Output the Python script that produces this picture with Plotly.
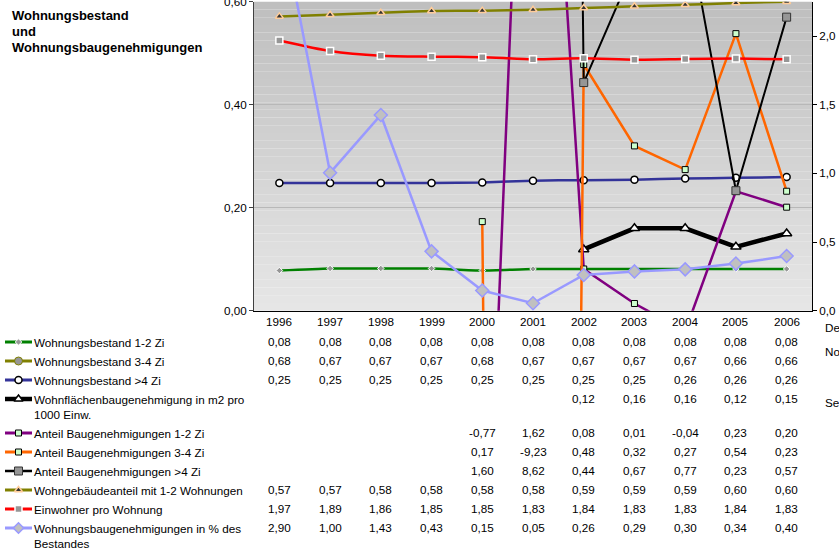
import plotly.graph_objects as go

W, H = 839, 549

years = ["1996", "1997", "1998", "1999", "2000", "2001", "2002", "2003", "2004", "2005", "2006"]

names = [
    "Wohnungsbestand 1-2 Zi",
    "Wohnungsbestand 3-4 Zi",
    "Wohnungsbestand >4 Zi",
    "Wohnflächenbaugenehmigung in m2 pro\n1000 Einw.",
    "Anteil Baugenehmigungen 1-2 Zi",
    "Anteil Baugenehmigungen 3-4 Zi",
    "Anteil Baugenehmigungen >4 Zi",
    "Wohngebäudeanteil mit 1-2 Wohnungen",
    "Einwohner pro Wohnung",
    "Wohnungsbaugenehmigungen in % des\nBestandes",
]

bestand_12 = [0.078, 0.082, 0.082, 0.082, 0.078, 0.081, 0.081, 0.081, 0.081, 0.081, 0.081]
bestand_34 = [0.68, 0.67, 0.67, 0.67, 0.68, 0.67, 0.67, 0.67, 0.67, 0.66, 0.66]
bestand_4 = [0.248, 0.248, 0.248, 0.248, 0.249, 0.2525, 0.2535, 0.2545, 0.2567, 0.258, 0.2595]
wohnflaeche = [None, None, None, None, None, None, 0.119, 0.160, 0.160, 0.124, 0.150]
anteil_12 = [None, None, None, None, -0.77, 1.62, 0.081, 0.014, -0.04, 0.232, 0.201]
anteil_34 = [None, None, None, None, 0.173, -9.23, 0.478, 0.320, 0.274, 0.538, 0.232]
anteil_4 = [None, None, None, None, 1.60, 8.62, 0.443, 0.67, 0.77, 0.233, 0.570]
gebaeude_12 = [0.5715, 0.5748, 0.5787, 0.582, 0.5826, 0.5843, 0.5877, 0.591, 0.594, 0.5974, 0.6]
einwohner = [1.968, 1.891, 1.857, 1.850, 1.846, 1.831, 1.838, 1.828, 1.833, 1.836, 1.831]
genehm_pct = [2.90, 1.004, 1.425, 0.432, 0.147, 0.054, 0.26, 0.286, 0.301, 0.343, 0.398]

series = [bestand_12, bestand_34, bestand_4, wohnflaeche, anteil_12, anteil_34,
          anteil_4, gebaeude_12, einwohner, genehm_pct]

left_ticks = [0.0, 0.2, 0.4, 0.6]
right_ticks = [0.0, 0.5, 1.0, 1.5, 2.0]

# styles: axis, line color, line width, spline, marker symbol, size, fill, edge, edge width
styles = [
    ("y", "#008000", 2.5, True, "diamond", 5, "#969696", "#ffffff", 1),
    ("y", "#808000", 2.5, True, "circle", 8, "#969696", "#808000", 1),
    ("y", "#333399", 2.5, True, "circle", 7, "#ffffff", "#000000", 1.5),
    ("y", "#000000", 4.5, False, "triangle-up", 9, "#ffffff", "#000000", 1.5),
    ("y", "#800080", 2.5, False, "square", 6, "#ccffcc", "#000000", 1),
    ("y", "#ff6600", 2.5, False, "square", 6, "#ccffcc", "#000000", 1),
    ("y", "#000000", 2.0, False, "square", 8, "#969696", "#333333", 1),
    ("y", "#808000", 2.5, True, "triangle-up", 7, "#333333", "#ffcc99", 1.5),
    ("y2", "#ff0000", 2.5, True, "square", 7, "#969696", "#ffffff", 1.5),
    ("y2", "#9999ff", 2.5, False, "diamond", 10, "#c0c0c0", "#9999ff", 1.5),
]

FONT = "Liberation Sans, Arial, sans-serif"
FS = 11.7


def px_x(p):
    return p / W


def px_y(p):
    return 1 - p / H


PL, PR, PT, PB = 254, 812, 1.7, 310.7

fig = go.Figure()

xs = list(range(len(years)))
for vals, st, nm in zip(series, styles, names):
    ax, col, lw, spl, sym, ms, mfill, medge, mew = st
    fig.add_trace(go.Scatter(
        x=xs, y=vals, yaxis=ax, xaxis="x", mode="lines+markers",
        name=nm.replace("\n", " "),
        line=dict(color=col, width=lw, shape="spline" if spl else "linear", smoothing=0.6),
        marker=dict(symbol=sym, size=ms, color=mfill, line=dict(color=medge, width=mew)),
        showlegend=False, hoverinfo="skip"))

# legend keys drawn in a helper subplot measured in reference pixels
LX1 = 250
LY0 = 330
row_y = [342, 361, 380, 399, 433, 452, 471, 490, 509, 528]
for st, ry in zip(styles, row_y):
    ax, col, lw, spl, sym, ms, mfill, medge, mew = st
    fig.add_trace(go.Scatter(
        x=[5, 32], y=[ry, ry], xaxis="x3", yaxis="y3", mode="lines",
        line=dict(color=col, width=min(lw + 0.5, 4.5)), showlegend=False, hoverinfo="skip"))
    fig.add_trace(go.Scatter(
        x=[18.5], y=[ry], xaxis="x3", yaxis="y3", mode="markers",
        marker=dict(symbol=sym, size=min(ms, 8), color=mfill, line=dict(color=medge, width=mew)),
        showlegend=False, hoverinfo="skip"))

annotations = []
# title
for k, t in enumerate(["Wohnungsbestand", "und", "Wohnungsbaugenehmigungen"]):
    annotations.append(dict(x=px_x(10), y=px_y(15 + 16.5 * k), xref="paper", yref="paper",
                            text=t, showarrow=False, xanchor="left", yanchor="middle",
                            font=dict(family=FONT, size=13, color="#000000", weight="bold")))

# years row
for i, yr in enumerate(years):
    annotations.append(dict(x=i, y=px_y(321), xref="x", yref="paper", text=yr, showarrow=False,
                            xanchor="center", yanchor="middle",
                            font=dict(family=FONT, size=FS, color="#000000")))

# table rows
for nm, vals, ry in zip(names, series, row_y):
    for k, line in enumerate(nm.split("\n")):
        annotations.append(dict(x=px_x(32), y=px_y(ry + 15 * k), xref="paper", yref="paper",
                                text=line, showarrow=False, xanchor="left", yanchor="middle",
                                font=dict(family=FONT, size=FS, color="#000000")))
    for i, v in enumerate(vals):
        if v is None:
            continue
        s = f"{v:.2f}".replace(".", ",")
        annotations.append(dict(x=i, y=px_y(ry - 1), xref="x", yref="paper", text=s, showarrow=False,
                                xanchor="center", yanchor="middle",
                                font=dict(family=FONT, size=FS, color="#000000")))

# truncated texts at right edge
for t, yy in [("De", 327), ("No", 351), ("Sep", 402)]:
    annotations.append(dict(x=px_x(823), y=px_y(yy), xref="paper", yref="paper", text=t,
                            showarrow=False, xanchor="left", yanchor="middle",
                            font=dict(family=FONT, size=FS, color="#000000")))

# gradient background of plot area
shapes = []
N = 40
top = (191, 191, 191)
bot = (230, 230, 230)
for k in range(N):
    f = (k + 0.5) / N
    c = tuple(int(round(bot[j] + (top[j] - bot[j]) * f)) for j in range(3))
    shapes.append(dict(type="rect", xref="x domain", yref="y domain", x0=0, x1=1,
                       y0=k / N, y1=(k + 1) / N, fillcolor="rgb(%d,%d,%d)" % c,
                       line=dict(width=0), layer="below"))

fig.update_layout(
    width=W, height=H,
    margin=dict(l=0, r=0, t=0, b=0, autoexpand=False),
    paper_bgcolor="#ffffff",
    plot_bgcolor="rgba(0,0,0,0)",
    separators=", ",
    font=dict(family=FONT, size=FS, color="#000000"),
    xaxis=dict(domain=[px_x(PL), px_x(PR)], range=[-0.5, len(years) - 0.5], automargin=False,
               showticklabels=False, ticks="", showgrid=False, zeroline=False,
               showline=True, linecolor="#000000", linewidth=1, anchor="y"),
    yaxis=dict(domain=[px_y(PB), px_y(PT)], range=[0, 0.6], tickvals=left_ticks, automargin=False,
               tickformat=".2f", ticks="outside", ticklen=4, tickcolor="#404040",
               showline=True, linecolor="#404040", linewidth=1, showgrid=True,
               gridcolor="#b8b8b8", gridwidth=1, zeroline=False, ticklabeloverflow="allow",
               tickfont=dict(family=FONT, size=FS, color="#000000"), anchor="x"),
    yaxis2=dict(overlaying="y", side="right", range=[0, 2.25], tickvals=right_ticks,
                automargin=False,
                tickformat=".1f", ticks="outside", ticklen=4, tickcolor="#000000",
                showline=True, linecolor="#000000", linewidth=1, showgrid=False,
                zeroline=False, ticklabeloverflow="allow",
                tickfont=dict(family=FONT, size=FS, color="#000000"), anchor="x"),
    xaxis3=dict(domain=[0, px_x(LX1)], range=[0, LX1], visible=False, anchor="y3",
                automargin=False),
    yaxis3=dict(domain=[0, px_y(LY0)], range=[H, LY0], visible=False, anchor="x3",
                automargin=False),
    annotations=annotations,
    shapes=shapes,
)

page_fix = (
    "var de=document.documentElement, b=document.body;"
    "[de,b].forEach(function(e){e.style.margin='0';e.style.padding='0';"
    "e.style.overflow='hidden';});"
)

fig.write_html("out.html", post_script=page_fix, config={"displayModeBar": False})
